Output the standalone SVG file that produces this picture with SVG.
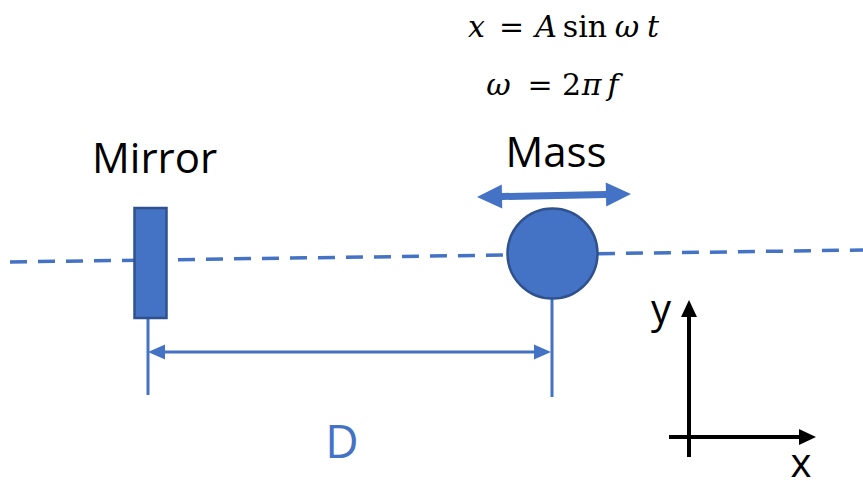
<svg xmlns="http://www.w3.org/2000/svg" width="863" height="481" viewBox="0 0 863 481">
  <style>
    .lbl { font-family: "Open Sans", "Liberation Sans", sans-serif; fill: #000000; }
    .math { font-family: "DejaVu Serif", "Liberation Serif", serif; font-size: 30px; fill: #000000; text-anchor: middle; }
    .it { font-style: italic; }
    .blue { stroke: #4472C4; fill: none; }
    .shape { fill: #4472C4; stroke: #2F528F; stroke-width: 2.5; }
    .ax { stroke: #000000; stroke-width: 4; fill: none; }
  </style>
  <rect width="863" height="481" fill="#ffffff"/>

  <g id="connectors">
    <line id="beam" class="blue" x1="10" y1="262" x2="863" y2="250" stroke-width="3.5" stroke-dasharray="17 11"/>
    <line class="blue" x1="148" y1="318" x2="148" y2="395" stroke-width="3"/>
    <line class="blue" x1="552" y1="299" x2="552" y2="397" stroke-width="3"/>
    <line class="blue" x1="162" y1="352" x2="538" y2="352" stroke-width="3"/>
    <polygon points="148,352 165,344.5 165,359.5" fill="#4472C4"/>
    <polygon points="551,352 534,344.5 534,359.5" fill="#4472C4"/>
  </g>

  <g id="mirror">
    <rect class="shape" x="134.5" y="208" width="32" height="110"/>
    <text class="lbl" x="92" y="173" font-size="42">Mirror</text>
  </g>

  <g id="mass">
    <circle class="shape" cx="552.5" cy="253.5" r="45"/>
    <polygon fill="#4472C4" transform="translate(554,195.5) rotate(-1.1)" points="-77,0 -52,-12 -52,-3.5 52,-3.5 52,-12 77,0 52,12 52,3.5 -52,3.5 -52,12"/>
    <text class="lbl" x="556" y="167" font-size="42" text-anchor="middle">Mass</text>
  </g>

  <g id="equations">
    <text class="math it" x="476.5" y="37">x</text>
    <text class="math" x="511.5" y="37">=</text>
    <text class="math it" x="546" y="37">A</text>
    <text class="math" x="585" y="37">sin</text>
    <text class="math it" x="627" y="37">ω</text>
    <text class="math it" x="653" y="37">t</text>
    <text class="math it" x="498.5" y="95">ω</text>
    <text class="math" x="540" y="95">=</text>
    <text class="math" x="571.5" y="95">2</text>
    <text class="math it" x="591.5" y="95">π</text>
    <text class="math it" x="613" y="95">f</text>
  </g>

  <g id="distance-label">
    <text class="lbl" x="342" y="458" font-size="46" text-anchor="middle" style="fill:#4472C4">D</text>
  </g>

  <g id="axes">
    <line class="ax" x1="689" y1="457" x2="689" y2="314"/>
    <polygon points="689,300 681,317 697,317" fill="#000000"/>
    <line class="ax" x1="669" y1="437" x2="802" y2="437"/>
    <polygon points="816,437 799,429 799,445" fill="#000000"/>
    <text class="lbl" x="661" y="323" font-size="40" text-anchor="middle">y</text>
    <text class="lbl" x="801" y="477" font-size="40" text-anchor="middle">x</text>
  </g>
</svg>
